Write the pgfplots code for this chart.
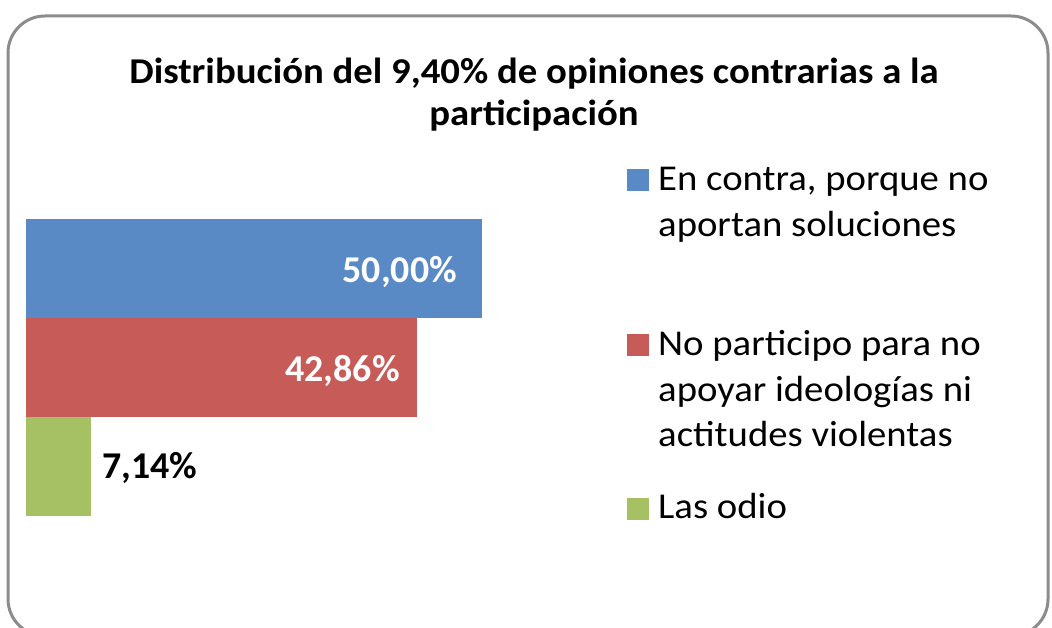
\documentclass[border=0pt]{standalone}
\usepackage{fontspec}
\setmainfont{Carlito}
\newfontfamily\widefont[FakeStretch=1.065]{Carlito}
\usepackage{pgfplots}
\pgfplotsset{compat=1.18}
\definecolor{barblue}{HTML}{5A8AC6}
\definecolor{barred}{HTML}{C65B58}
\definecolor{bargreen}{HTML}{A5C163}
\definecolor{framegray}{HTML}{8C8C8C}
\begin{document}
\begin{tikzpicture}
\useasboundingbox (0bp,0bp) rectangle (1052bp,628bp);
\draw[framegray, line width=3bp, rounded corners=37bp] (8bp,-8bp) rectangle (1048bp,612bp);
\begin{axis}[
  at={(26bp,112bp)}, anchor=south west,
  scale only axis, width=456bp, height=297bp,
  xmin=0, xmax=50, ymin=-0.5, ymax=2.5,
  hide axis, clip=false,
  xbar, bar width=1, bar shift=0pt,
  point meta=explicit symbolic,
  nodes near coords,
  title={\begin{tabular}[t]{@{}c@{}}Distribución del 9,40\% de opiniones contrarias a la\\participación\end{tabular}},
  title style={at={(1.114,1.4377)}, anchor=base, font=\widefont\fontsize{36.5}{43}\selectfont\bfseries, inner sep=0pt},
  legend style={at={(1.318,1.2051)}, anchor=north west, draw=none, fill=none,
    inner sep=0pt, row sep=0pt, column sep=9bp,
    font=\widefont\fontsize{36.5}{46}\selectfont,
    cells={anchor=base west}, nodes={inner sep=0pt}},
]
\addplot[fill=barblue, draw=none,
  legend image code/.code={\fill[fill=barblue] (0bp,-1bp) rectangle (22bp,21bp); \path (0bp,-132.8bp);},
  every node near coord/.style={anchor=base east, xshift=-25bp, yshift=-14bp, text=white, font=\fontsize{38}{45}\selectfont\bfseries, inner sep=0pt}]
  coordinates {(50,2) [50,00\%]};
\addlegendentry{\begin{tabular}[t]{@{}l@{}}En contra, porque no\\aportan soluciones\end{tabular}}
\addplot[fill=barred, draw=none,
  legend image code/.code={\fill[fill=barred] (0bp,-1bp) rectangle (22bp,21bp); \path (0bp,-131.2bp);},
  every node near coord/.style={anchor=base east, xshift=-17bp, yshift=-14bp, text=white, font=\fontsize{38}{45}\selectfont\bfseries, inner sep=0pt}]
  coordinates {(42.86,1) [42,86\%]};
\addlegendentry{\begin{tabular}[t]{@{}l@{}}No participo para no\\apoyar ideologías ni\\actitudes violentas\end{tabular}}
\addplot[fill=bargreen, draw=none,
  legend image code/.code={\fill[fill=bargreen] (0bp,-1bp) rectangle (22bp,21bp);},
  every node near coord/.style={anchor=base west, xshift=11bp, yshift=-12bp, text=black, font=\fontsize{38}{45}\selectfont\bfseries, inner sep=0pt}]
  coordinates {(7.14,0) [7,14\%]};
\addlegendentry{\begin{tabular}[t]{@{}l@{}}Las odio\end{tabular}}
\end{axis}
\end{tikzpicture}
\end{document}
